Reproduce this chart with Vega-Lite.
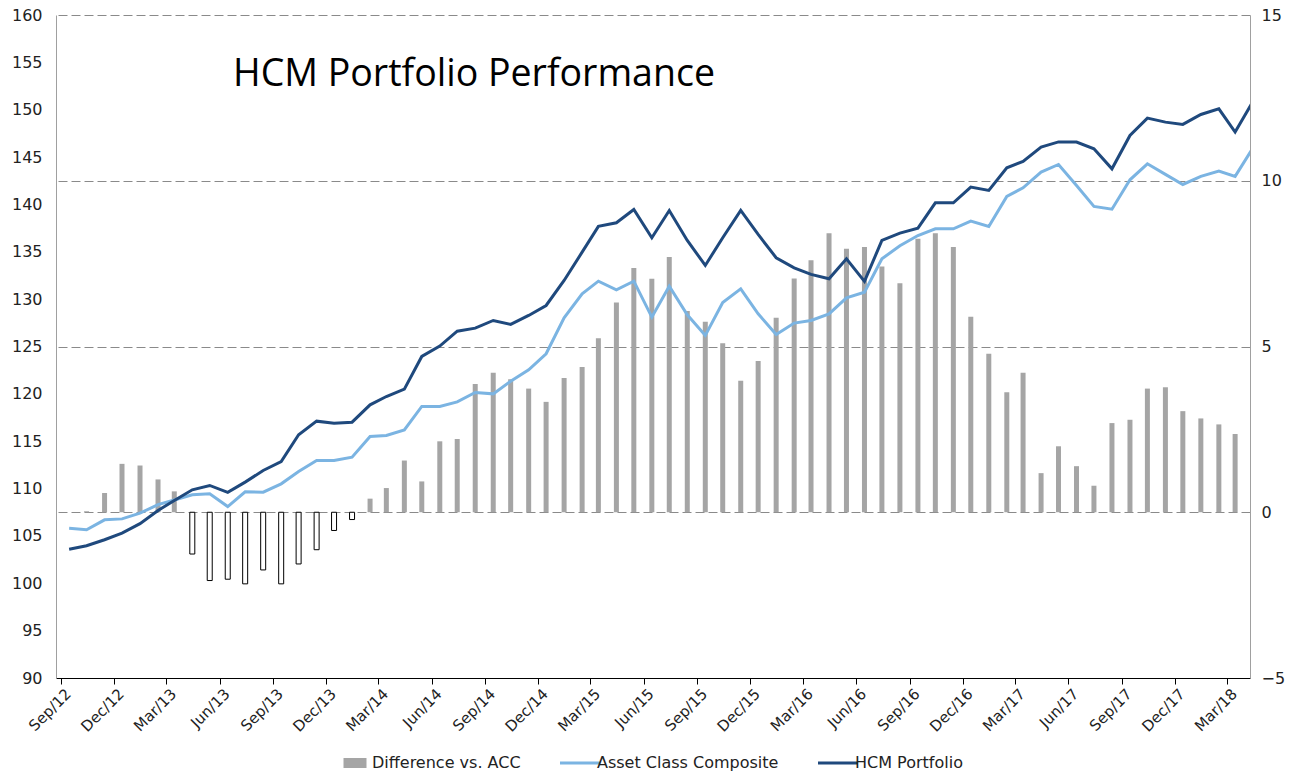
{
  "$schema": "https://vega.github.io/schema/vega-lite/v6.json",
  "width": 1194,
  "height": 663,
  "autosize": {"type": "none"},
  "padding": {"left": 56, "top": 15, "right": 44, "bottom": 94},
  "background": "white",
  "config": {"view": {"stroke": null}, "font": "DejaVu Sans"},
  "title": {
    "text": "HCM Portfolio Performance",
    "anchor": "start",
    "frame": "group",
    "orient": "top",
    "offset": 0,
    "dx": 177,
    "dy": 116,
    "font": "Open Sans",
    "fontSize": 37.5,
    "fontWeight": "normal",
    "color": "#000000",
    "baseline": "alphabetic"
  },
  "data": {
    "values": [
      {"date": "2012-09-15", "diff": 0, "acc": 105.8, "hcm": 103.6},
      {"date": "2012-10-15", "diff": 0.03, "acc": 105.65, "hcm": 103.96},
      {"date": "2012-11-15", "diff": 0.58, "acc": 106.7, "hcm": 104.6},
      {"date": "2012-12-15", "diff": 1.46, "acc": 106.8, "hcm": 105.3},
      {"date": "2013-01-15", "diff": 1.41, "acc": 107.4, "hcm": 106.3},
      {"date": "2013-02-15", "diff": 0.99, "acc": 108.3, "hcm": 107.69},
      {"date": "2013-03-15", "diff": 0.63, "acc": 108.8, "hcm": 108.74},
      {"date": "2013-04-15", "diff": -1.26, "acc": 109.34, "hcm": 109.87},
      {"date": "2013-05-15", "diff": -2.06, "acc": 109.45, "hcm": 110.33},
      {"date": "2013-06-15", "diff": -2.02, "acc": 108.1, "hcm": 109.6},
      {"date": "2013-07-15", "diff": -2.16, "acc": 109.66, "hcm": 110.68},
      {"date": "2013-08-15", "diff": -1.74, "acc": 109.62, "hcm": 111.91},
      {"date": "2013-09-15", "diff": -2.16, "acc": 110.5, "hcm": 112.86},
      {"date": "2013-10-15", "diff": -1.56, "acc": 111.8, "hcm": 115.68},
      {"date": "2013-11-15", "diff": -1.13, "acc": 112.97, "hcm": 117.12},
      {"date": "2013-12-15", "diff": -0.55, "acc": 112.97, "hcm": 116.91},
      {"date": "2014-01-15", "diff": -0.22, "acc": 113.32, "hcm": 117.01},
      {"date": "2014-02-15", "diff": 0.41, "acc": 115.5, "hcm": 118.84},
      {"date": "2014-03-15", "diff": 0.73, "acc": 115.6, "hcm": 119.72},
      {"date": "2014-04-15", "diff": 1.56, "acc": 116.2, "hcm": 120.5},
      {"date": "2014-05-15", "diff": 0.93, "acc": 118.67, "hcm": 123.95},
      {"date": "2014-06-15", "diff": 2.14, "acc": 118.67, "hcm": 125.04},
      {"date": "2014-07-15", "diff": 2.21, "acc": 119.15, "hcm": 126.62},
      {"date": "2014-08-15", "diff": 3.87, "acc": 120.15, "hcm": 126.94},
      {"date": "2014-09-15", "diff": 4.21, "acc": 120.0, "hcm": 127.75},
      {"date": "2014-10-15", "diff": 4.01, "acc": 121.34, "hcm": 127.33},
      {"date": "2014-11-15", "diff": 3.73, "acc": 122.54, "hcm": 128.28},
      {"date": "2014-12-15", "diff": 3.33, "acc": 124.23, "hcm": 129.33},
      {"date": "2015-01-15", "diff": 4.05, "acc": 128.03, "hcm": 131.97},
      {"date": "2015-02-15", "diff": 4.38, "acc": 130.56, "hcm": 134.96},
      {"date": "2015-03-15", "diff": 5.25, "acc": 131.9, "hcm": 137.68},
      {"date": "2015-04-15", "diff": 6.33, "acc": 130.99, "hcm": 138.06},
      {"date": "2015-05-15", "diff": 7.37, "acc": 131.9, "hcm": 139.47},
      {"date": "2015-06-15", "diff": 7.04, "acc": 128.1, "hcm": 136.48},
      {"date": "2015-07-15", "diff": 7.7, "acc": 131.37, "hcm": 139.36},
      {"date": "2015-08-15", "diff": 6.07, "acc": 128.35, "hcm": 136.2},
      {"date": "2015-09-15", "diff": 5.75, "acc": 126.17, "hcm": 133.56},
      {"date": "2015-10-15", "diff": 5.1, "acc": 129.65, "hcm": 136.48},
      {"date": "2015-11-15", "diff": 3.97, "acc": 131.09, "hcm": 139.36},
      {"date": "2015-12-15", "diff": 4.56, "acc": 128.45, "hcm": 136.83},
      {"date": "2016-01-15", "diff": 5.87, "acc": 126.27, "hcm": 134.37},
      {"date": "2016-02-15", "diff": 7.05, "acc": 127.47, "hcm": 133.31},
      {"date": "2016-03-15", "diff": 7.6, "acc": 127.75, "hcm": 132.61},
      {"date": "2016-04-15", "diff": 8.42, "acc": 128.45, "hcm": 132.15},
      {"date": "2016-05-15", "diff": 7.95, "acc": 130.14, "hcm": 134.26},
      {"date": "2016-06-15", "diff": 8.0, "acc": 130.74, "hcm": 131.87},
      {"date": "2016-07-15", "diff": 7.41, "acc": 134.26, "hcm": 136.2},
      {"date": "2016-08-15", "diff": 6.91, "acc": 135.63, "hcm": 136.97},
      {"date": "2016-09-15", "diff": 8.25, "acc": 136.72, "hcm": 137.5},
      {"date": "2016-10-15", "diff": 8.42, "acc": 137.43, "hcm": 140.17},
      {"date": "2016-11-15", "diff": 8.0, "acc": 137.43, "hcm": 140.17},
      {"date": "2016-12-15", "diff": 5.9, "acc": 138.24, "hcm": 141.83},
      {"date": "2017-01-15", "diff": 4.78, "acc": 137.67, "hcm": 141.48},
      {"date": "2017-02-15", "diff": 3.62, "acc": 140.84, "hcm": 143.87},
      {"date": "2017-03-15", "diff": 4.21, "acc": 141.76, "hcm": 144.54},
      {"date": "2017-04-15", "diff": 1.18, "acc": 143.41, "hcm": 146.05},
      {"date": "2017-05-15", "diff": 1.99, "acc": 144.22, "hcm": 146.6},
      {"date": "2017-06-15", "diff": 1.39, "acc": 142.0, "hcm": 146.58},
      {"date": "2017-07-15", "diff": 0.8, "acc": 139.79, "hcm": 145.88},
      {"date": "2017-08-15", "diff": 2.69, "acc": 139.5, "hcm": 143.76},
      {"date": "2017-09-15", "diff": 2.79, "acc": 142.6, "hcm": 147.28},
      {"date": "2017-10-15", "diff": 3.73, "acc": 144.29, "hcm": 149.11},
      {"date": "2017-11-15", "diff": 3.77, "acc": 143.17, "hcm": 148.69},
      {"date": "2017-12-15", "diff": 3.05, "acc": 142.11, "hcm": 148.45},
      {"date": "2018-01-15", "diff": 2.83, "acc": 142.96, "hcm": 149.5},
      {"date": "2018-02-15", "diff": 2.65, "acc": 143.52, "hcm": 150.1},
      {"date": "2018-03-15", "diff": 2.36, "acc": 142.96, "hcm": 147.64},
      {"date": "2018-04-15", "diff": null, "acc": 146.0, "hcm": 150.9}
    ]
  },
  "encoding": {
    "x": {
      "field": "date",
      "type": "temporal",
      "scale": {
        "type": "utc",
        "domain": [
          {"year": 2012, "month": 9, "date": 1, "utc": true},
          {"year": 2018, "month": 4, "date": 1, "utc": true}
        ]
      },
      "axis": {
        "title": null,
        "values": [
          {"year": 2012, "month": 9, "date": 1, "utc": true},
          {"year": 2012, "month": 12, "date": 1, "utc": true},
          {"year": 2013, "month": 3, "date": 1, "utc": true},
          {"year": 2013, "month": 6, "date": 1, "utc": true},
          {"year": 2013, "month": 9, "date": 1, "utc": true},
          {"year": 2013, "month": 12, "date": 1, "utc": true},
          {"year": 2014, "month": 3, "date": 1, "utc": true},
          {"year": 2014, "month": 6, "date": 1, "utc": true},
          {"year": 2014, "month": 9, "date": 1, "utc": true},
          {"year": 2014, "month": 12, "date": 1, "utc": true},
          {"year": 2015, "month": 3, "date": 1, "utc": true},
          {"year": 2015, "month": 6, "date": 1, "utc": true},
          {"year": 2015, "month": 9, "date": 1, "utc": true},
          {"year": 2015, "month": 12, "date": 1, "utc": true},
          {"year": 2016, "month": 3, "date": 1, "utc": true},
          {"year": 2016, "month": 6, "date": 1, "utc": true},
          {"year": 2016, "month": 9, "date": 1, "utc": true},
          {"year": 2016, "month": 12, "date": 1, "utc": true},
          {"year": 2017, "month": 3, "date": 1, "utc": true},
          {"year": 2017, "month": 6, "date": 1, "utc": true},
          {"year": 2017, "month": 9, "date": 1, "utc": true},
          {"year": 2017, "month": 12, "date": 1, "utc": true},
          {"year": 2018, "month": 3, "date": 1, "utc": true}
        ],
        "format": "%b/%y",
        "labelAngle": -45,
        "labelAlign": "right",
        "labelBaseline": "middle",
        "labelFont": "DejaVu Sans",
        "labelFontSize": 15,
        "labelColor": "#222222",
        "labelOverlap": false,
        "labelPadding": 7,
        "labelOffset": 7,
        "tickSize": 6,
        "tickColor": "#000000",
        "domainColor": "#000000",
        "grid": false
      }
    }
  },
  "layer": [
    {
      "mark": {"type": "bar", "size": 5},
      "encoding": {
        "y": {
          "field": "diff",
          "type": "quantitative",
          "scale": {"domain": [-5, 15], "nice": false},
          "axis": {
            "orient": "right",
            "title": null,
            "values": [-5, 0, 5, 10, 15],
            "grid": true,
            "gridDash": [9, 4],
            "gridColor": "#8a8a8a",
            "gridWidth": 1,
            "domainColor": "#a0a0a0",
            "ticks": false,
            "labelFont": "DejaVu Sans",
            "labelFontSize": 16,
            "labelColor": "#222222",
            "labelPadding": 11
          }
        },
        "fill": {"condition": {"test": "datum.diff < 0", "value": "#ffffff"}, "value": "#a5a5a5"},
        "stroke": {"value": "#000000"},
        "strokeWidth": {"condition": {"test": "datum.diff < 0", "value": 1}, "value": 0}
      }
    },
    {
      "encoding": {
        "y": {
          "type": "quantitative",
          "scale": {"domain": [90, 160], "nice": false, "zero": false},
          "axis": {
            "orient": "left",
            "title": null,
            "values": [90, 95, 100, 105, 110, 115, 120, 125, 130, 135, 140, 145, 150, 155, 160],
            "grid": false,
            "ticks": false,
            "domainColor": "#a0a0a0",
            "labelFont": "DejaVu Sans",
            "labelFontSize": 16,
            "labelColor": "#222222",
            "labelPadding": 14
          }
        },
        "color": {
          "type": "nominal",
          "scale": {
            "domain": ["Difference vs. ACC", "Asset Class Composite", "HCM Portfolio"],
            "range": ["#a5a5a5", "#7bb4e2", "#1f497d"]
          },
          "legend": {
            "orient": "none",
            "legendX": 291,
            "legendY": 740,
            "direction": "horizontal",
            "title": null,
            "symbolType": "stroke",
            "symbolSize": 1600,
            "symbolStrokeWidth": 3,
            "labelFont": "DejaVu Sans",
            "labelFontSize": 16,
            "labelColor": "#222222",
            "labelLimit": 400,
            "labelOffset": 9,
            "columnPadding": 33,
            "encode": {
              "symbols": {
                "update": {
                  "shape": {"signal": "datum.value === 'Difference vs. ACC' ? 'M-0.575,-0.25H0.575V0.25H-0.575Z' : 'M-1,0H1'"},
                  "fill": {"signal": "datum.value === 'Difference vs. ACC' ? '#a5a5a5' : 'transparent'"},
                  "strokeWidth": {"signal": "datum.value === 'Difference vs. ACC' ? 0 : 3"}
                }
              }
            }
          }
        }
      },
      "layer": [
        {
          "mark": {"type": "line", "strokeWidth": 3, "clip": true},
          "encoding": {
            "y": {"field": "acc", "type": "quantitative"},
            "color": {"datum": "Asset Class Composite", "type": "nominal"}
          }
        },
        {
          "mark": {"type": "line", "strokeWidth": 3, "clip": true},
          "encoding": {
            "y": {"field": "hcm", "type": "quantitative"},
            "color": {"datum": "HCM Portfolio", "type": "nominal"}
          }
        }
      ]
    }
  ],
  "resolve": {"scale": {"y": "independent"}}
}
